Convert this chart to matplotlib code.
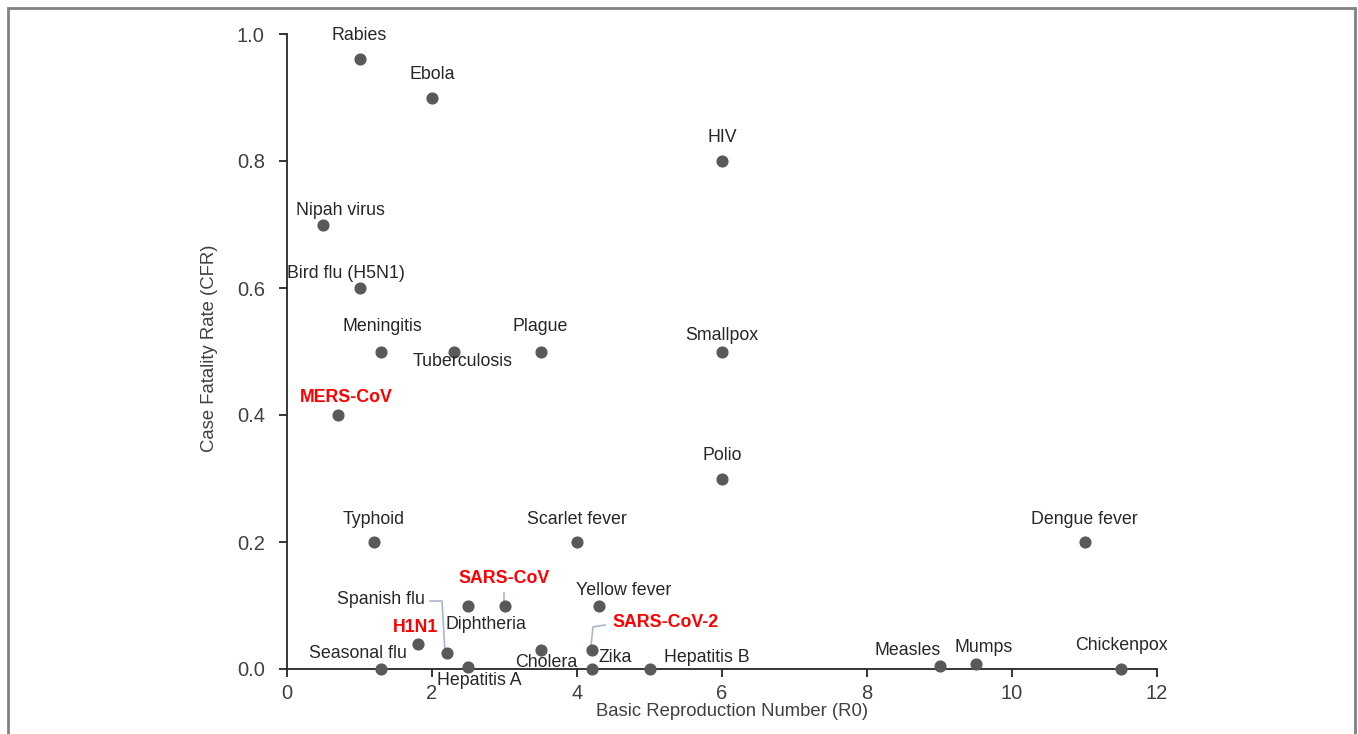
import matplotlib.pyplot as plt
from matplotlib.patches import Rectangle

plt.rcParams['font.family'] = ['Liberation Sans', 'DejaVu Sans']

# 数据：疾病名称, R0, 病死率
diseases = ['Rabies', 'Ebola', 'HIV', 'Nipah virus', 'Bird flu (H5N1)', 'Meningitis',
            'Tuberculosis', 'Plague', 'Smallpox', 'MERS-CoV', 'Polio', 'Typhoid',
            'Scarlet fever', 'Dengue fever', 'Spanish flu', 'SARS-CoV', 'Yellow fever',
            'Diphtheria', 'H1N1', 'Seasonal flu', 'Hepatitis A', 'Cholera',
            'SARS-CoV-2', 'Zika', 'Hepatitis B', 'Measles', 'Mumps', 'Chickenpox']
r0 = [1.0, 2.0, 6.0, 0.5, 1.0, 1.3,
      2.3, 3.5, 6.0, 0.7, 6.0, 1.2,
      4.0, 11.0, 2.2, 3.0, 4.3,
      2.5, 1.8, 1.3, 2.5, 3.5,
      4.2, 4.2, 5.0, 9.0, 9.5, 11.5]
cfr = [0.96, 0.90, 0.80, 0.70, 0.60, 0.50,
       0.50, 0.50, 0.50, 0.40, 0.30, 0.20,
       0.20, 0.20, 0.025, 0.10, 0.10,
       0.10, 0.04, 0.0, 0.003, 0.03,
       0.03, 0.0, 0.0, 0.005, 0.008, 0.0]
highlight = ['MERS-CoV', 'SARS-CoV', 'SARS-CoV-2', 'H1N1']

# 标签偏移（像素，相对点）
offsets = {
    'Rabies': (0, 24), 'Ebola': (0, 23), 'HIV': (0, 24), 'Nipah virus': (17, 14),
    'Bird flu (H5N1)': (-14, 14), 'Meningitis': (1, 25), 'Tuberculosis': (9, -10),
    'Plague': (-1, 25), 'Smallpox': (0, 16), 'MERS-CoV': (9, 17), 'Polio': (0, 23),
    'Typhoid': (0, 23), 'Scarlet fever': (0, 23), 'Dengue fever': (0, 23),
    'Spanish flu': (-66, 54), 'SARS-CoV': (0, 27), 'Yellow fever': (25, 15),
    'Diphtheria': (18, -19), 'H1N1': (-2, 16), 'Seasonal flu': (-23, 16),
    'Hepatitis A': (11, -13), 'Cholera': (5, -13), 'SARS-CoV-2': (74, 27),
    'Zika': (24, 12), 'Hepatitis B': (57, 11), 'Measles': (-32, 15),
    'Mumps': (8, 16), 'Chickenpox': (1, 24),
}

fig = plt.figure(figsize=(13.58, 7.34), dpi=100)
ax = fig.add_axes([287 / 1358, 65 / 734, 870 / 1358, 635 / 734])
ax.set_xlim(0, 12)
ax.set_ylim(0, 1.0)

ax.scatter(r0, cfr, s=60, color='#595959', zorder=3, clip_on=False)

for name, x, y in zip(diseases, r0, cfr):
    dx, dy = offsets[name]
    red = name in highlight
    ax.annotate(name, (x, y), xytext=(dx * 0.72, dy * 0.72), textcoords='offset points',
                ha='center', va='center', fontsize=12.8,
                color='#ff0000' if red else '#262626',
                fontweight='bold' if red else 'normal')

# 引线
lc = '#a9b7cb'
def px2data(px, py):
    return ax.transData.inverted().transform(fig.transFigure.transform((px / 1358, 1 - py / 734)))

for pts in [[(430, 601), (442, 601), (445, 652)],
            [(504, 593), (504, 602)],
            [(591, 646), (593, 627), (605, 625)]]:
    d = [px2data(*p) for p in pts]
    ax.plot([p[0] for p in d], [p[1] for p in d], color=lc, lw=1.2, zorder=2, clip_on=False)

ax.set_xticks([0, 2, 4, 6, 8, 10, 12])
ax.set_yticks([0, 0.2, 0.4, 0.6, 0.8, 1.0])
ax.set_yticklabels(['0.0', '0.2', '0.4', '0.6', '0.8', '1.0'])
ax.spines['top'].set_visible(False)
ax.spines['right'].set_visible(False)
for s in ['left', 'bottom']:
    ax.spines[s].set_linewidth(1.3)
    ax.spines[s].set_color('#262626')
ax.tick_params(direction='out', length=6, width=1.3, color='#262626',
               labelsize=14.5, labelcolor='#404040', pad=5)
ax.tick_params(axis='y', pad=10)
ax.set_xlabel('Basic Reproduction Number (R0)', fontsize=13.3, color='#404040')
ax.set_ylabel('Case Fatality Rate (CFR)', fontsize=13.3, color='#404040')
ax.xaxis.set_label_coords((732 - 287) / 870, -(703 - 669) / 635)
ax.yaxis.set_label_coords(-(287 - 218) / 870, (669 - 348) / 635)

# 外框
fig.patches.append(Rectangle((8 / 1358, -0.05), 1347 / 1358, 1 - 8 / 734 + 0.05,
                             transform=fig.transFigure, fill=False,
                             edgecolor='#808080', lw=2))

fig.savefig('out.png', dpi=100)
